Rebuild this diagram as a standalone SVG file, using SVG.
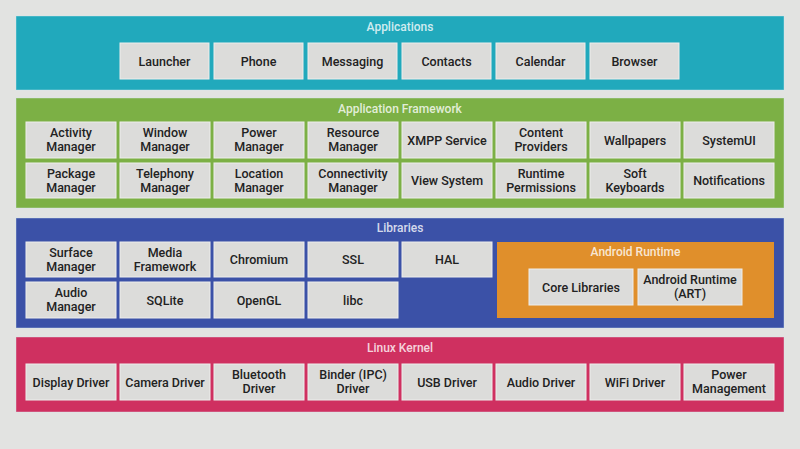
<svg xmlns="http://www.w3.org/2000/svg" width="800" height="449" viewBox="0 0 800 449">
<style>
.bg{fill:#e2e3e1}
.panel{stroke:#d6eef0;stroke-width:0.8;stroke-opacity:0.5}
.box{fill:#dcdcda;stroke:#eeeeec;stroke-width:1}
.t{font-family:Roboto,"Liberation Sans",sans-serif;font-size:12.5px;font-weight:500;fill:#222222;text-anchor:middle}
.h{font-family:Roboto,"Liberation Sans",sans-serif;font-size:12px;font-weight:500;fill:#ffffff;fill-opacity:0.8;text-anchor:middle}
</style>
<rect class="bg" x="0" y="0" width="800" height="449"/>
<g id="connectors"/>

<g id="applications">
<rect class="panel" x="16" y="16" width="768" height="74" fill="#21a9bc"/>
<text class="h" x="400" y="31">Applications</text>
<g id="launcher"><rect class="box" x="120" y="43" width="89" height="36"/><text class="t" x="164.5" y="65.5">Launcher</text></g>
<g id="phone"><rect class="box" x="214" y="43" width="89" height="36"/><text class="t" x="258.5" y="65.5">Phone</text></g>
<g id="messaging"><rect class="box" x="308" y="43" width="89" height="36"/><text class="t" x="352.5" y="65.5">Messaging</text></g>
<g id="contacts"><rect class="box" x="402" y="43" width="89" height="36"/><text class="t" x="446.5" y="65.5">Contacts</text></g>
<g id="calendar"><rect class="box" x="496" y="43" width="89" height="36"/><text class="t" x="540.5" y="65.5">Calendar</text></g>
<g id="browser"><rect class="box" x="590" y="43" width="89" height="36"/><text class="t" x="634.5" y="65.5">Browser</text></g>
</g>

<g id="framework">
<rect class="panel" x="16" y="98" width="768" height="110" fill="#7cb045"/>
<text class="h" x="400" y="113">Application Framework</text>
<g id="activity"><rect class="box" x="26" y="122" width="90" height="36"/><text class="t" x="71" y="137">Activity</text><text class="t" x="71" y="151">Manager</text></g>
<g id="window"><rect class="box" x="120" y="122" width="90" height="36"/><text class="t" x="165" y="137">Window</text><text class="t" x="165" y="151">Manager</text></g>
<g id="power"><rect class="box" x="214" y="122" width="90" height="36"/><text class="t" x="259" y="137">Power</text><text class="t" x="259" y="151">Manager</text></g>
<g id="resource"><rect class="box" x="308" y="122" width="90" height="36"/><text class="t" x="353" y="137">Resource</text><text class="t" x="353" y="151">Manager</text></g>
<g id="xmpp"><rect class="box" x="402" y="122" width="90" height="36"/><text class="t" x="447" y="144.5">XMPP Service</text></g>
<g id="content"><rect class="box" x="496" y="122" width="90" height="36"/><text class="t" x="541" y="137">Content</text><text class="t" x="541" y="151">Providers</text></g>
<g id="wallpapers"><rect class="box" x="590" y="122" width="90" height="36"/><text class="t" x="635" y="144.5">Wallpapers</text></g>
<g id="systemui"><rect class="box" x="684" y="122" width="90" height="36"/><text class="t" x="729" y="144.5">SystemUI</text></g>
<g id="package"><rect class="box" x="26" y="163" width="90" height="35"/><text class="t" x="71" y="177.5">Package</text><text class="t" x="71" y="191.5">Manager</text></g>
<g id="telephony"><rect class="box" x="120" y="163" width="90" height="35"/><text class="t" x="165" y="177.5">Telephony</text><text class="t" x="165" y="191.5">Manager</text></g>
<g id="location"><rect class="box" x="214" y="163" width="90" height="35"/><text class="t" x="259" y="177.5">Location</text><text class="t" x="259" y="191.5">Manager</text></g>
<g id="connectivity"><rect class="box" x="308" y="163" width="90" height="35"/><text class="t" x="353" y="177.5">Connectivity</text><text class="t" x="353" y="191.5">Manager</text></g>
<g id="viewsystem"><rect class="box" x="402" y="163" width="90" height="35"/><text class="t" x="447" y="185">View System</text></g>
<g id="permissions"><rect class="box" x="496" y="163" width="90" height="35"/><text class="t" x="541" y="177.5">Runtime</text><text class="t" x="541" y="191.5">Permissions</text></g>
<g id="keyboards"><rect class="box" x="590" y="163" width="90" height="35"/><text class="t" x="635" y="177.5">Soft</text><text class="t" x="635" y="191.5">Keyboards</text></g>
<g id="notifications"><rect class="box" x="684" y="163" width="90" height="35"/><text class="t" x="729" y="185">Notifications</text></g>
</g>

<g id="libraries">
<rect class="panel" x="16" y="218" width="768" height="110" fill="#3b51a7"/>
<text class="h" x="400" y="232">Libraries</text>
<g id="surface"><rect class="box" x="26" y="242" width="90" height="35"/><text class="t" x="71" y="256.5">Surface</text><text class="t" x="71" y="270.5">Manager</text></g>
<g id="media"><rect class="box" x="120" y="242" width="90" height="35"/><text class="t" x="165" y="256.5">Media</text><text class="t" x="165" y="270.5">Framework</text></g>
<g id="chromium"><rect class="box" x="214" y="242" width="90" height="35"/><text class="t" x="259" y="264">Chromium</text></g>
<g id="ssl"><rect class="box" x="308" y="242" width="90" height="35"/><text class="t" x="353" y="264">SSL</text></g>
<g id="hal"><rect class="box" x="402" y="242" width="90" height="35"/><text class="t" x="447" y="264">HAL</text></g>
<g id="audiomgr"><rect class="box" x="26" y="282" width="90" height="36"/><text class="t" x="71" y="297">Audio</text><text class="t" x="71" y="311">Manager</text></g>
<g id="sqlite"><rect class="box" x="120" y="282" width="90" height="36"/><text class="t" x="165" y="304.5">SQLite</text></g>
<g id="opengl"><rect class="box" x="214" y="282" width="90" height="36"/><text class="t" x="259" y="304.5">OpenGL</text></g>
<g id="libc"><rect class="box" x="308" y="282" width="90" height="36"/><text class="t" x="353" y="304.5">libc</text></g>
<g id="androidruntime">
<rect x="497" y="242" width="277" height="76" fill="#e08f2b"/>
<text class="h" x="635.5" y="256">Android Runtime</text>
<g id="corelibs"><rect class="box" x="529" y="269" width="104" height="36"/><text class="t" x="581" y="291.5">Core Libraries</text></g>
<g id="art"><rect class="box" x="638" y="269" width="104" height="36"/><text class="t" x="690" y="284">Android Runtime</text><text class="t" x="690" y="298">(ART)</text></g>
</g>
</g>

<g id="kernel">
<rect class="panel" x="16" y="337" width="768" height="75" fill="#cf3060"/>
<text class="h" x="400" y="352">Linux Kernel</text>
<g id="display"><rect class="box" x="26" y="364" width="90" height="36"/><text class="t" x="71" y="386.5">Display Driver</text></g>
<g id="camera"><rect class="box" x="120" y="364" width="90" height="36"/><text class="t" x="165" y="386.5">Camera Driver</text></g>
<g id="bluetooth"><rect class="box" x="214" y="364" width="90" height="36"/><text class="t" x="259" y="379">Bluetooth</text><text class="t" x="259" y="393">Driver</text></g>
<g id="binder"><rect class="box" x="308" y="364" width="90" height="36"/><text class="t" x="353" y="379">Binder (IPC)</text><text class="t" x="353" y="393">Driver</text></g>
<g id="usb"><rect class="box" x="402" y="364" width="90" height="36"/><text class="t" x="447" y="386.5">USB Driver</text></g>
<g id="audiodrv"><rect class="box" x="496" y="364" width="90" height="36"/><text class="t" x="541" y="386.5">Audio Driver</text></g>
<g id="wifi"><rect class="box" x="590" y="364" width="90" height="36"/><text class="t" x="635" y="386.5">WiFi Driver</text></g>
<g id="powermgmt"><rect class="box" x="684" y="364" width="90" height="36"/><text class="t" x="729" y="379">Power</text><text class="t" x="729" y="393">Management</text></g>
</g>
</svg>
